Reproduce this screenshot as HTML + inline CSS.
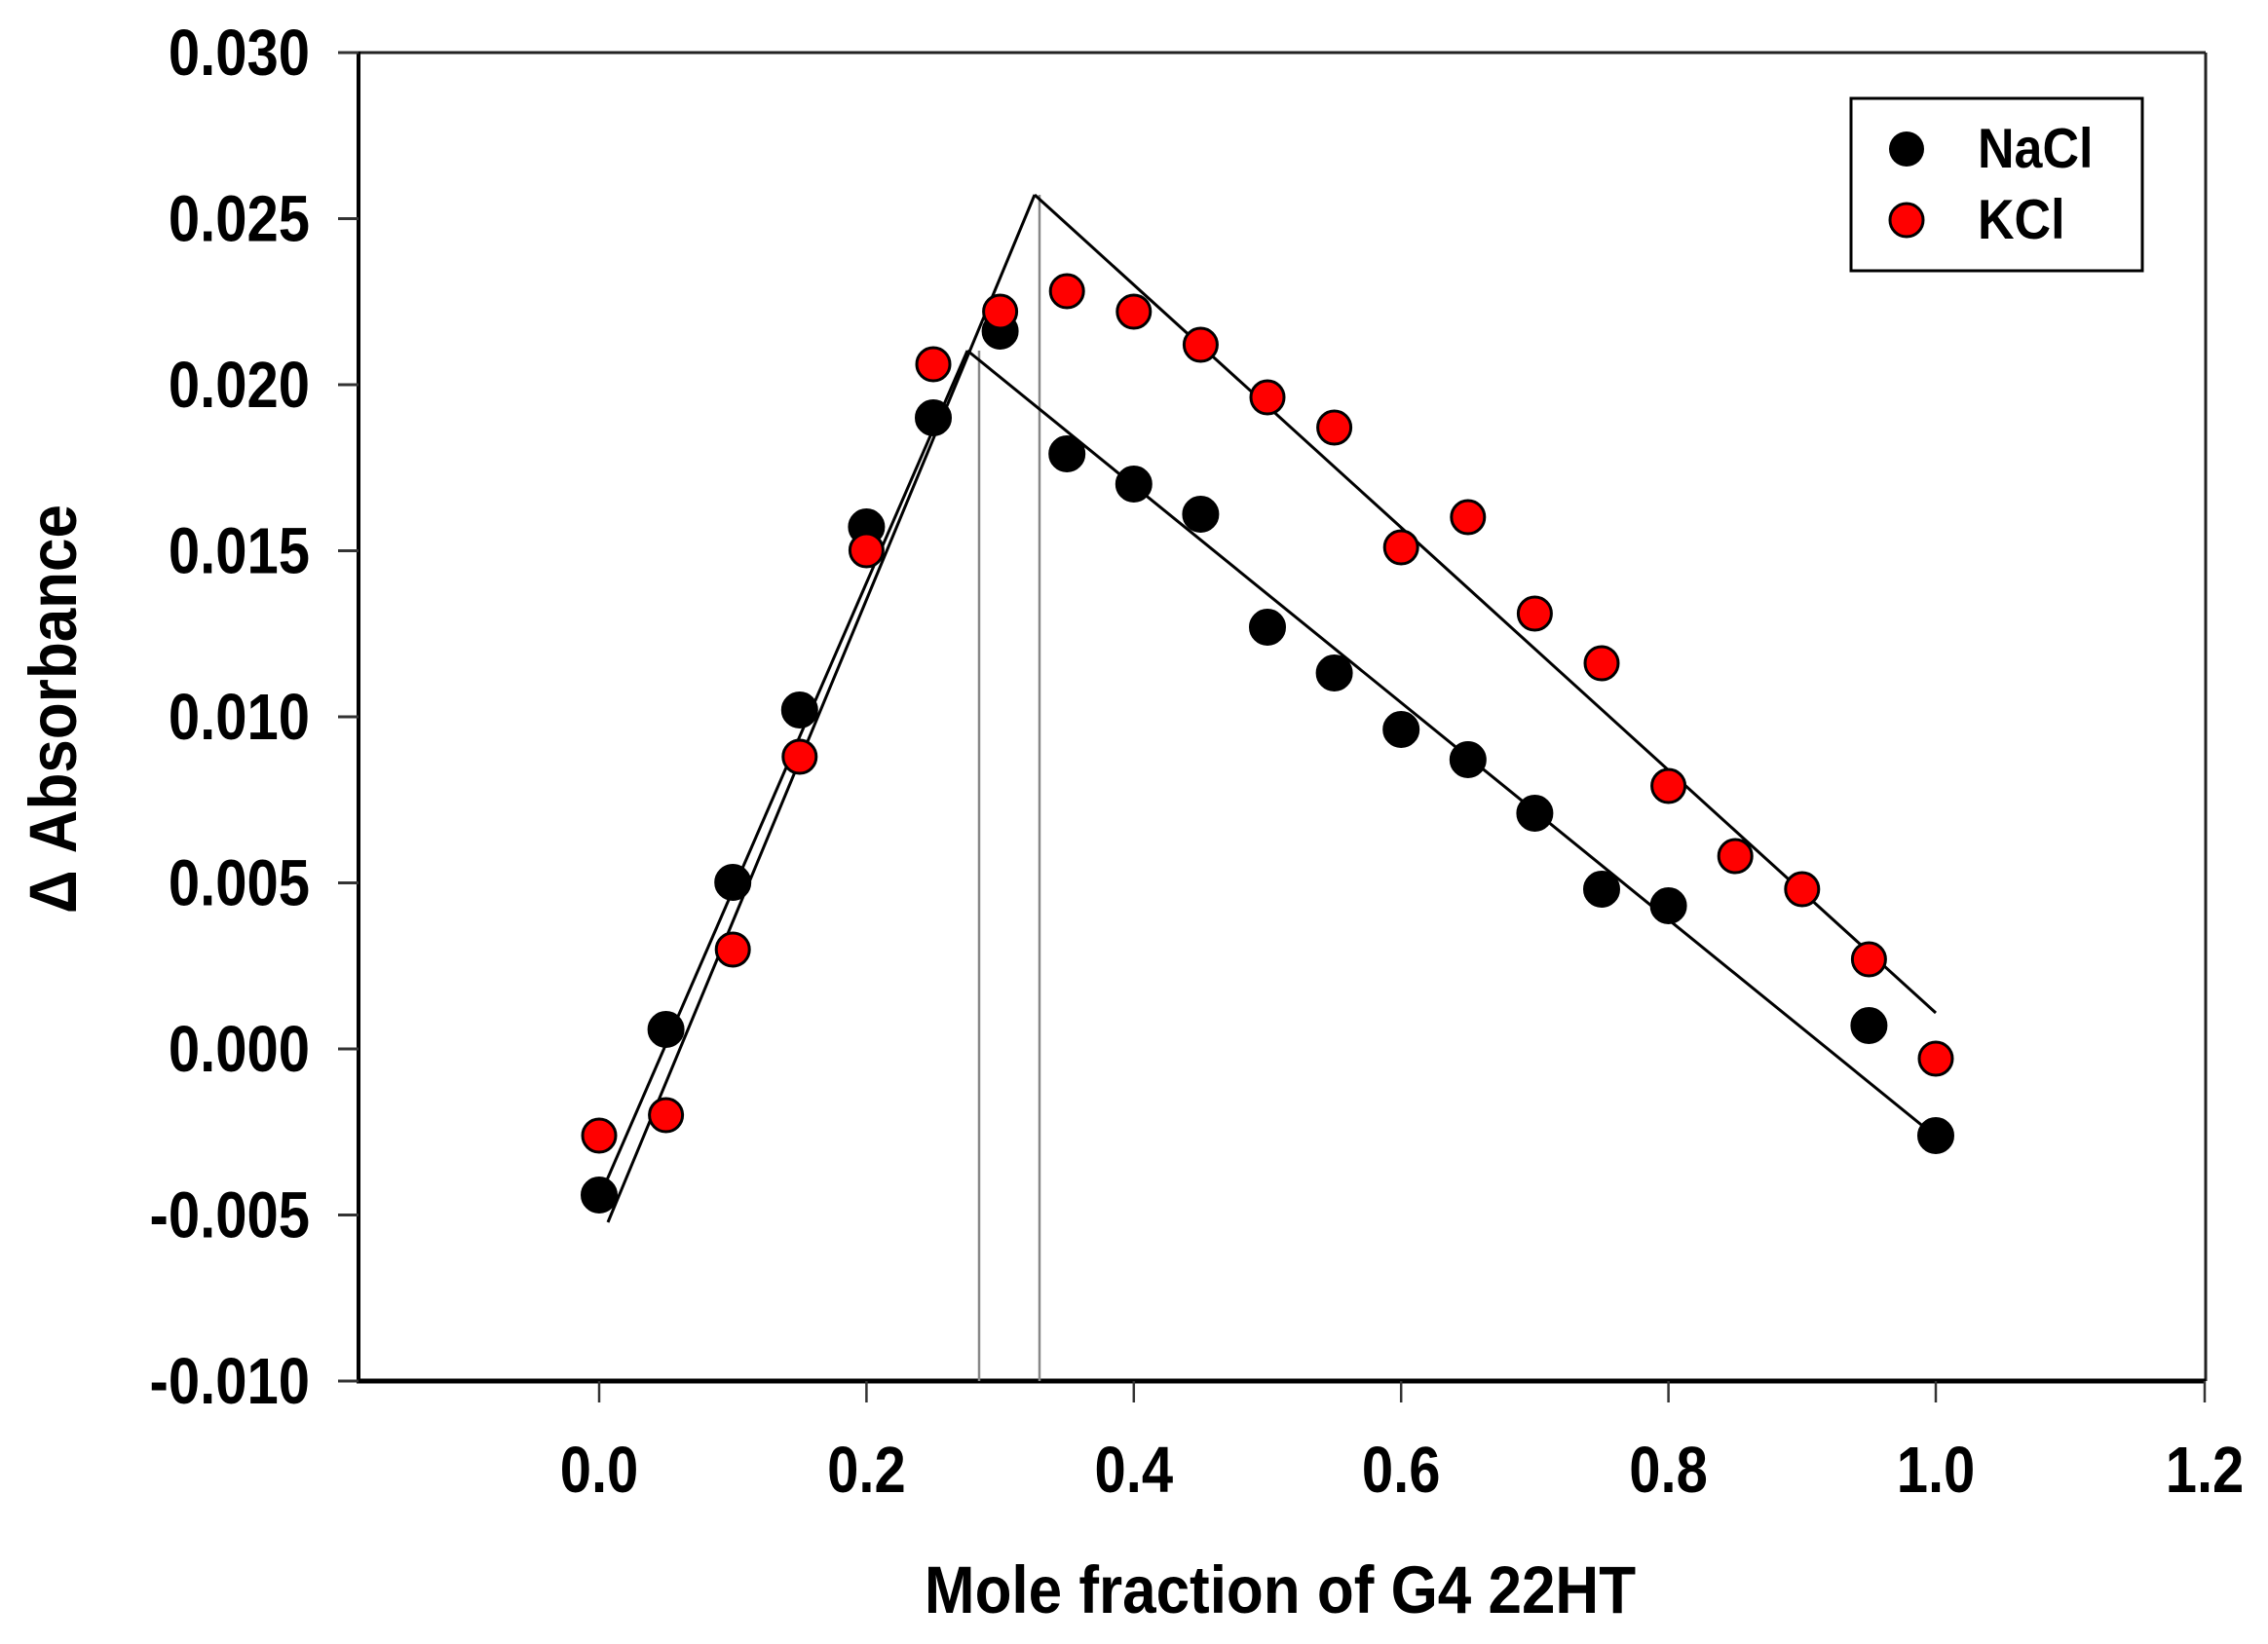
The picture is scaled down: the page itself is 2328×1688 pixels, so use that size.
<!DOCTYPE html>
<html><head><meta charset="utf-8"><style>
html,body{margin:0;padding:0;background:#fff}
svg{display:block}
text{font-family:"Liberation Sans",Arial,sans-serif;font-weight:bold;fill:#000}
</style></head><body>
<svg width="2328" height="1688" viewBox="0 0 2328 1688" xmlns="http://www.w3.org/2000/svg">
<rect width="2328" height="1688" fill="#fff"/>
<line x1="368" y1="54" x2="2264" y2="54" stroke="#222" stroke-width="3"/>
<line x1="2264" y1="54" x2="2264" y2="1418" stroke="#222" stroke-width="3"/>
<line x1="368" y1="53" x2="368" y2="1420" stroke="#000" stroke-width="4"/>
<line x1="366" y1="1418" x2="2264" y2="1418" stroke="#000" stroke-width="5"/>
<g stroke="#333" stroke-width="3">
<line x1="347" y1="54" x2="368" y2="54"/><line x1="347" y1="224.5" x2="368" y2="224.5"/>
<line x1="347" y1="395" x2="368" y2="395"/><line x1="347" y1="565.5" x2="368" y2="565.5"/>
<line x1="347" y1="736" x2="368" y2="736"/><line x1="347" y1="906.5" x2="368" y2="906.5"/>
<line x1="347" y1="1077" x2="368" y2="1077"/><line x1="347" y1="1247.5" x2="368" y2="1247.5"/>
<line x1="347" y1="1418" x2="368" y2="1418"/>
</g>
<g stroke="#333" stroke-width="2.5">
<line x1="615" y1="1418" x2="615" y2="1440"/><line x1="889.4" y1="1418" x2="889.4" y2="1440"/>
<line x1="1163.8" y1="1418" x2="1163.8" y2="1440"/><line x1="1438.2" y1="1418" x2="1438.2" y2="1440"/>
<line x1="1712.6" y1="1418" x2="1712.6" y2="1440"/><line x1="1987" y1="1418" x2="1987" y2="1440"/>
<line x1="2263" y1="1418" x2="2263" y2="1440"/>
</g>
<g font-size="58" text-anchor="end">
<text transform="translate(318,77) scale(1,1.15)">0.030</text>
<text transform="translate(318,247.5) scale(1,1.15)">0.025</text>
<text transform="translate(318,418) scale(1,1.15)">0.020</text>
<text transform="translate(318,588.5) scale(1,1.15)">0.015</text>
<text transform="translate(318,759) scale(1,1.15)">0.010</text>
<text transform="translate(318,929.5) scale(1,1.15)">0.005</text>
<text transform="translate(318,1100) scale(1,1.15)">0.000</text>
<text transform="translate(318,1270.5) scale(1,1.15)">-0.005</text>
<text transform="translate(318,1441) scale(1,1.15)">-0.010</text>
</g>
<g font-size="58" text-anchor="middle">
<text transform="translate(615,1532) scale(1,1.15)">0.0</text>
<text transform="translate(889.4,1532) scale(1,1.15)">0.2</text>
<text transform="translate(1163.8,1532) scale(1,1.15)">0.4</text>
<text transform="translate(1438.2,1532) scale(1,1.15)">0.6</text>
<text transform="translate(1712.6,1532) scale(1,1.15)">0.8</text>
<text transform="translate(1987,1532) scale(1,1.15)">1.0</text>
<text transform="translate(2263,1532) scale(1,1.15)">1.2</text>
</g>
<text transform="translate(1314,1656) scale(1,1.1)" font-size="62" text-anchor="middle">Mole fraction of G4 22HT</text>
<text transform="translate(78,728) rotate(-90) scale(1,1.1)" font-size="62" text-anchor="middle">Δ Absorbance</text>
<line x1="1005" y1="1418" x2="1005" y2="360" stroke="#888" stroke-width="2.5"/>
<line x1="1067" y1="1418" x2="1067" y2="200" stroke="#888" stroke-width="2.5"/>
<g stroke="#000" stroke-width="3" fill="none">
<line x1="615" y1="1230" x2="993" y2="360"/>
<line x1="624" y1="1255" x2="1062" y2="200"/>
<line x1="993" y1="360" x2="1987" y2="1167"/>
<line x1="1062" y1="200" x2="1987" y2="1040"/>
</g>
<g fill="#000" stroke="#000" stroke-width="2">
<circle cx="615" cy="1227" r="18"/><circle cx="683.6" cy="1057" r="18"/>
<circle cx="752.2" cy="906" r="18"/><circle cx="820.8" cy="729" r="18"/>
<circle cx="889.4" cy="541" r="18"/><circle cx="958" cy="429" r="18"/>
<circle cx="1026.6" cy="340" r="18"/><circle cx="1095.2" cy="466" r="18"/>
<circle cx="1163.8" cy="497" r="18"/><circle cx="1232.4" cy="528" r="18"/>
<circle cx="1301" cy="644" r="18"/><circle cx="1369.6" cy="691" r="18"/>
<circle cx="1438.2" cy="749" r="18"/><circle cx="1506.8" cy="780" r="18"/>
<circle cx="1575.4" cy="835" r="18"/><circle cx="1644" cy="913" r="18"/>
<circle cx="1712.6" cy="930" r="18"/><circle cx="1918.4" cy="1053" r="18"/>
<circle cx="1987" cy="1166" r="18"/>
</g>
<g fill="#f00" stroke="#000" stroke-width="3">
<circle cx="615" cy="1166" r="17"/><circle cx="683.6" cy="1145" r="17"/>
<circle cx="752.2" cy="975" r="17"/><circle cx="820.8" cy="777" r="17"/>
<circle cx="889.4" cy="565" r="17"/><circle cx="958" cy="374" r="17"/>
<circle cx="1026.6" cy="320" r="17"/><circle cx="1095.2" cy="299" r="17"/>
<circle cx="1163.8" cy="320" r="17"/><circle cx="1232.4" cy="354" r="17"/>
<circle cx="1301" cy="408" r="17"/><circle cx="1369.6" cy="439" r="17"/>
<circle cx="1438.2" cy="562" r="17"/><circle cx="1506.8" cy="531" r="17"/>
<circle cx="1575.4" cy="630" r="17"/><circle cx="1644" cy="681" r="17"/>
<circle cx="1712.6" cy="807" r="17"/><circle cx="1781.2" cy="879" r="17"/>
<circle cx="1849.8" cy="913" r="17"/><circle cx="1918.4" cy="985" r="17"/>
<circle cx="1987" cy="1087" r="17"/>
</g>
<rect x="1900" y="101" width="299" height="177" fill="#fff" stroke="#000" stroke-width="3"/>
<circle cx="1957" cy="153" r="18" fill="#000"/>
<circle cx="1957" cy="226" r="17" fill="#f00" stroke="#000" stroke-width="3"/>
<text transform="translate(2030,172) scale(1,1.1)" font-size="52">NaCl</text>
<text transform="translate(2030,245) scale(1,1.1)" font-size="52">KCl</text>
</svg>
</body></html>
